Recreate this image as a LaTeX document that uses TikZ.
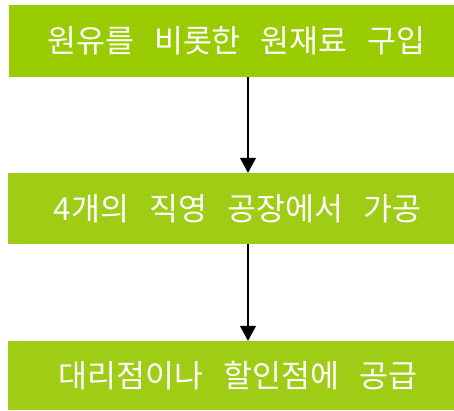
\documentclass[tikz,border=0pt]{standalone}
\usepackage{fontspec}
\newfontfamily\kr{Noto Sans CJK KR}
\usetikzlibrary{arrows.meta}
\definecolor{topgreen}{HTML}{99CC00}
\definecolor{boxgreen}{HTML}{9FCC14}
\newcommand\wgap{\hskip 20pt\relax}
\newcommand\lead{\hskip 10pt\relax}
\tikzset{
  stepbox/.style={rectangle, fill=#1, draw=none, inner sep=0pt, text=white,
    minimum width=446pt, font=\kr\fontsize{31.5pt}{34pt}\selectfont},
  flow/.style={draw=black, line width=1.3pt, -{Triangle[width=16pt,length=15pt]}}
}
\begin{document}
\begin{tikzpicture}[x=1pt,y=1pt]
\useasboundingbox (0,0) rectangle (454,410);
\node[stepbox=topgreen, minimum height=72pt] (a) at (231.5,369) {\lead 원유를\wgap 비롯한\wgap 원재료\wgap 구입};
\node[stepbox=boxgreen, minimum height=71pt] (b) at (231,201.5) {\lead\hskip 3pt 4개의\wgap 직영\wgap 공장에서\wgap 가공};
\node[stepbox=boxgreen, minimum height=69pt] (c) at (231,34.5) {\lead\hskip 4pt 대리점이나\wgap 할인점에\wgap 공급};
\draw[flow] (a.south -| 248,0) -- (b.north -| 248,0);
\draw[flow] (b.south -| 248,0) -- (c.north -| 248,0);
\end{tikzpicture}
\end{document}
